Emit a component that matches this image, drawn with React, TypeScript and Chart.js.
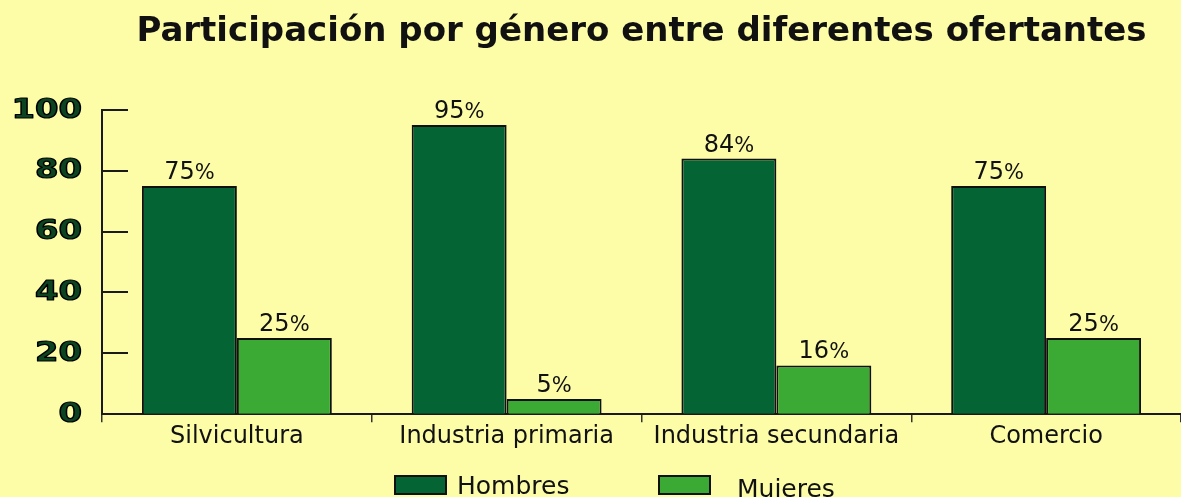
import React, { useEffect, useRef } from "react";
import { Chart, registerables } from "chart.js";

Chart.register(...registerables);

const categories = ["Silvicultura", "Industria primaria", "Industria secundaria", "Comercio"];
const hombres = [75, 95, 84, 75];
const mujeres = [25, 5, 16, 25];
const seriesLabels = ["Hombres", "Mujeres"];
const yTicks = [0, 20, 40, 60, 80, 100];
const titleText = "Participación por género entre diferentes ofertantes";

const BG = "#FDFDA8";
const DARK = "#046433";
const LIGHT = "#3BAA35";

const bgPlugin = {
  id: "bg",
  beforeDraw(chart: any) {
    const { ctx, width, height } = chart;
    ctx.save();
    ctx.fillStyle = BG;
    ctx.fillRect(0, 0, width, height);
    ctx.restore();
  },
};

const yAxisPlugin = {
  id: "yAxisDeco",
  afterDatasetsDraw(chart: any) {
    const { ctx, chartArea } = chart;
    const y = chart.scales.y;
    ctx.save();
    ctx.strokeStyle = "#1a1a1a";
    ctx.lineWidth = 2;
    y.ticks.forEach((t: any) => {
      const py = Math.round(y.getPixelForValue(t.value));
      ctx.beginPath();
      ctx.moveTo(chartArea.left, py);
      ctx.lineTo(chartArea.left + 26, py);
      ctx.stroke();
    });
    ctx.font = "bold 26px 'DejaVu Sans'";
    ctx.textAlign = "right";
    ctx.textBaseline = "middle";
    ctx.lineJoin = "round";
    y.ticks.forEach((t: any) => {
      const py = y.getPixelForValue(t.value);
      const label = String(t.value);
      ctx.save();
      ctx.translate(chartArea.left - 20, py + 1);
      ctx.scale(1.3, 1);
      ctx.lineWidth = 1.2;
      ctx.strokeStyle = "#000";
      ctx.fillStyle = "#0c4422";
      ctx.fillText(label, 0, 0);
      ctx.strokeText(label, 0, 0);
      ctx.restore();
    });
    ctx.restore();
  },
};

const valueLabelsPlugin = {
  id: "valueLabels",
  afterDatasetsDraw(chart: any) {
    const { ctx } = chart;
    ctx.save();
    ctx.fillStyle = "#111";
    ctx.textBaseline = "alphabetic";
    ctx.textAlign = "left";
    chart.data.datasets.forEach((ds: any, i: number) => {
      const meta = chart.getDatasetMeta(i);
      meta.data.forEach((bar: any, j: number) => {
        const v = ds.data[j];
        const num = String(v);
        const pct = "%";
        ctx.font = "24px 'DejaVu Sans'";
        const w1 = ctx.measureText(num).width;
        ctx.font = "21px 'DejaVu Sans'";
        const w2 = ctx.measureText(pct).width;
        const start = bar.x - (w1 + w2) / 2;
        ctx.font = "24px 'DejaVu Sans'";
        ctx.fillText(num, start, bar.y - 7);
        ctx.font = "21px 'DejaVu Sans'";
        ctx.fillText(pct, start + w1, bar.y - 7);
      });
    });
    ctx.restore();
  },
};

const legendPlugin = {
  id: "customLegend",
  afterDraw(chart: any) {
    const { ctx, chartArea } = chart;
    const items = chart.data.datasets.map((ds: any) => ({ label: ds.label, color: ds.backgroundColor }));
    const starts = [chartArea.left + 293, chartArea.left + 557];
    const gaps = [11, 27];
    const yb = [494, 497];
    ctx.save();
    items.forEach((it: any, i: number) => {
      const x = starts[i];
      ctx.fillStyle = it.color;
      ctx.fillRect(x, 476, 51, 18);
      ctx.strokeStyle = "#111";
      ctx.lineWidth = 2;
      ctx.strokeRect(x, 476, 51, 18);
      ctx.fillStyle = "#111";
      ctx.font = "25px 'DejaVu Sans'";
      ctx.textAlign = "left";
      ctx.textBaseline = "alphabetic";
      ctx.fillText(it.label, x + 51 + gaps[i], yb[i]);
    });
    ctx.restore();
  },
};

export default function App() {
  const ref = useRef<HTMLCanvasElement>(null);
  useEffect(() => {
    document.body.style.margin = "0";
    const chart = new Chart(ref.current!, {
      type: "bar",
      data: {
        labels: categories,
        datasets: [
          {
            label: seriesLabels[0],
            data: hombres,
            backgroundColor: DARK,
            borderColor: "#111",
            borderWidth: 2,
            borderSkipped: "bottom",
            barPercentage: 1,
            categoryPercentage: 0.704,
          },
          {
            label: seriesLabels[1],
            data: mujeres,
            backgroundColor: LIGHT,
            borderColor: "#111",
            borderWidth: 2,
            borderSkipped: "bottom",
            barPercentage: 1,
            categoryPercentage: 0.704,
          },
        ],
      },
      options: {
        responsive: false,
        animation: false,
        layout: { padding: { left: 0, right: 0, top: 0, bottom: 46 } },
        plugins: {
          legend: { display: false },
          tooltip: { enabled: false },
          title: {
            display: true,
            fullSize: false,
            text: titleText,
            color: "#111",
            font: { family: "'DejaVu Sans'", size: 34, weight: "bold" as any },
            padding: { top: 12, bottom: 57 },
          },
        },
        scales: {
          x: {
            offset: true,
            grid: {
              display: true,
              drawOnChartArea: false,
              drawTicks: true,
              tickLength: 8,
              color: "#333",
              lineWidth: 1.5,
              offset: true,
            },
            border: { display: true, color: "#1a1a1a", width: 2 },
            ticks: {
              color: "#111",
              padding: 0,
              font: { family: "'DejaVu Sans'", size: 24 },
            },
          },
          y: {
            min: 0,
            max: 100,
            afterFit: (s: any) => {
              s.width = 102;
            },
            afterBuildTicks: (s: any) => {
              s.ticks = yTicks.map((v) => ({ value: v }));
            },
            grid: { display: true, drawOnChartArea: false, drawTicks: false },
            border: { display: true, color: "#1a1a1a", width: 2 },
            ticks: { display: false },
          },
        },
      },
      plugins: [bgPlugin, yAxisPlugin, valueLabelsPlugin, legendPlugin],
    });
    return () => chart.destroy();
  }, []);
  return (
    <div style={{ position: "fixed", left: 0, top: 0, width: 1181, height: 497, background: BG }}>
      <canvas ref={ref} width={1181} height={497} />
    </div>
  );
}
